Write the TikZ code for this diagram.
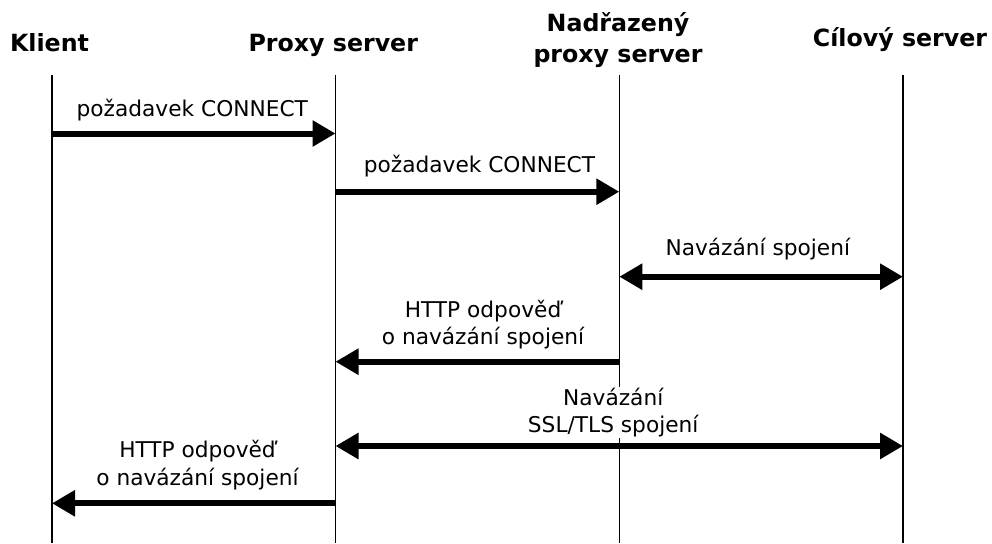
\documentclass[tikz,border=0pt]{standalone}
\usepackage{fontspec}
\setmainfont{DejaVu Sans}
\usetikzlibrary{arrows.meta}
\begin{document}
\begin{tikzpicture}[x=1pt,y=-1pt,
  head/.style={font=\fontsize{23.7}{31.5}\selectfont\bfseries, align=center, inner sep=0pt, anchor=base},
  msglabel/.style={font=\fontsize{21.7}{27.3}\selectfont, align=center, fill=white, inner xsep=2pt, inner ysep=1pt, anchor=base},
  lifeline/.style={line width=1.3pt},
  tip/.tip={Triangle[length=23pt,width=25pt]},
  msg/.style={line width=6pt, -tip},
  dmsg/.style={line width=6pt, tip-tip},
]
\useasboundingbox (0,0) rectangle (992,543);

% participants (base anchor = baseline of the last line)
\node[head] (klient) at (49.5,52) {Klient};
\node[head] (proxy) at (333.3,51.7) {Proxy server};
\node[head] (parent) at (618,63) {Nadřazený\\proxy server};
\node[head] (target) at (900,47) {Cílový server};

% lifeline ends
\coordinate (kTop) at (52,75);    \coordinate (kBot) at (52,543);
\coordinate (pTop) at (335.5,75); \coordinate (pBot) at (335.5,543);
\coordinate (nTop) at (619.3,75); \coordinate (nBot) at (619.3,543);
\coordinate (cTop) at (903,75);   \coordinate (cBot) at (903,543);

\draw[lifeline] (kTop) -- (kBot);
\draw[lifeline] (pTop) -- (pBot);
\draw[lifeline] (nTop) -- (nBot);
\draw[lifeline] (cTop) -- (cBot);

% message rows
\coordinate (r1) at (0,133.5);
\coordinate (r2) at (0,191.7);
\coordinate (r3) at (0,276.7);
\coordinate (r4) at (0,361.7);
\coordinate (r5) at (0,446);
\coordinate (r6) at (0,503.3);

% labels
\node[msglabel] (l1) at (192.3,116.7) {požadavek CONNECT};
\node[msglabel] (l2) at (479.5,172.3) {požadavek CONNECT};
\node[msglabel] (l3) at (757.8,255) {Navázání spojení};
\node[msglabel] (l4) at (483,344.3) {HTTP odpověď\\o navázání spojení};
\node[msglabel] (l5) at (613.2,432.3) {Navázání\\SSL/TLS spojení};
\node[msglabel] (l6) at (197.5,485) {HTTP odpověď\\o navázání spojení};

% messages
\draw[msg]  (kTop |- r1) -- (pTop |- r1);
\draw[msg]  (pTop |- r2) -- (nTop |- r2);
\draw[dmsg] (nTop |- r3) -- (cTop |- r3);
\draw[msg]  (nTop |- r4) -- (pTop |- r4);
\draw[dmsg] (pTop |- r5) -- (cTop |- r5);
\draw[msg]  (pTop |- r6) -- (kTop |- r6);
\end{tikzpicture}
\end{document}
